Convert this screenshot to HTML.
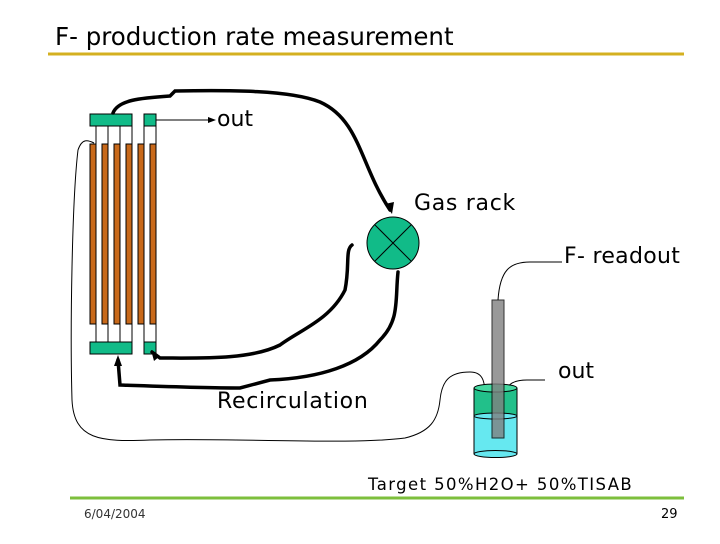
<!DOCTYPE html>
<html><head><style>
body{margin:0;width:720px;height:540px;background:#fff;overflow:hidden;font-family:"DejaVu Sans",sans-serif}
</style></head><body>
<svg width="720" height="540" xmlns="http://www.w3.org/2000/svg" font-family="DejaVu Sans, sans-serif">
<text x="55" y="45" font-size="24.5" fill="#000">F- production rate measurement</text>
<line x1="48" y1="54" x2="684" y2="54" stroke="#d4b020" stroke-width="3"/>
<line x1="70" y1="498" x2="684" y2="498" stroke="#7dbf3c" stroke-width="3"/>
<text x="84" y="518" font-size="12" fill="#333">6/04/2004</text>
<text x="661" y="518" font-size="13" fill="#000">29</text>

<g stroke="#000" stroke-width="1" fill="#fff">
<rect x="96" y="126" width="12" height="216"/>
<rect x="108" y="126" width="12" height="216"/>
<rect x="120" y="126" width="12" height="216"/>
<rect x="144" y="126" width="12" height="216"/>
</g>
<g fill="#c8691a" stroke="#000" stroke-width="1">
<rect x="90" y="144" width="6" height="180"/>
<rect x="102" y="144" width="6" height="180"/>
<rect x="114" y="144" width="6" height="180"/>
<rect x="126" y="144" width="6" height="180"/>
<rect x="138" y="144" width="6" height="180"/>
<rect x="150" y="144" width="6" height="180"/>
</g>
<g fill="#11bb88" stroke="#000" stroke-width="1">
<rect x="90" y="114" width="42" height="12"/>
<rect x="144" y="114" width="12" height="12"/>
<rect x="90" y="342" width="42" height="12"/>
<rect x="144" y="342" width="12" height="12"/>
</g>
<line x1="156" y1="120" x2="212" y2="120" stroke="#000" stroke-width="1"/>
<polygon points="216,120 208,117 208,123" fill="#000"/>
<text x="217" y="126" font-size="22">out</text>

<g fill="none" stroke="#000" stroke-width="3.5" stroke-linecap="round">
<path d="M113,113 C118,100 140,98 170,96 L175,91 C230,90 290,90 320,102 C360,120 360,165 390,210"/>
<path d="M398,272 C395,300 400,320 380,340 C360,365 320,378 270,380 L240,388 C200,388 150,386 120,385 L118,360"/>
<path d="M352,245 C345,250 350,265 345,290 C330,320 300,330 280,345 C250,360 200,358 160,358 L152,352"/>
</g>
<polygon points="392,214 385,204 394,202" fill="#000"/>
<polygon points="118,355 114,366 122,366" fill="#000"/>
<polygon points="151,350 154,361 160,356" fill="#000"/>

<circle cx="393" cy="243" r="26" fill="#11bb88" stroke="#000" stroke-width="1"/>
<line x1="375" y1="225" x2="411" y2="261" stroke="#000"/>
<line x1="411" y1="225" x2="375" y2="261" stroke="#000"/>
<text x="414" y="210" font-size="22" letter-spacing="0.7">Gas rack</text>
<text x="564" y="263" font-size="22" letter-spacing="0.3">F- readout</text>
<text x="558" y="378" font-size="22">out</text>
<text x="217" y="408" font-size="22" letter-spacing="0.7">Recirculation</text>
<text x="368" y="490" font-size="16.5" letter-spacing="1.4" fill="#000">Target 50%H2O+ 50%TISAB</text>

<g fill="none" stroke="#000" stroke-width="1">
<path d="M94,143 C88,140 82,138 78,150 C72,200 70,330 72,400 C74,440 100,442 150,440 C250,438 350,445 405,438 C430,432 438,420 440,400 C442,380 450,372 470,372 C482,372 485,380 485,395 L485,440"/>
<path d="M498,300 C500,270 510,262 530,262 C545,262 550,262 562,262"/>
<path d="M503,400 C505,385 512,380 527,380 L545,380"/>
</g>

<rect x="474" y="416" width="43" height="38" fill="#66e8f0" stroke="none"/>
<ellipse cx="495.5" cy="454" rx="21.5" ry="3.5" fill="#66e8f0" stroke="#000"/>
<rect x="474" y="388" width="43" height="28" fill="#22c08a"/>
<ellipse cx="495.5" cy="416" rx="21.5" ry="3" fill="#66e8f0" stroke="#000"/>
<ellipse cx="495.5" cy="388" rx="21.5" ry="4" fill="#44d8a0" stroke="#000"/>
<line x1="474" y1="388" x2="474" y2="454" stroke="#000"/>
<line x1="517" y1="388" x2="517" y2="454" stroke="#000"/>
<rect x="492" y="300" width="12" height="138" fill="#808080" stroke="#000" opacity="0.8"/>
</svg>
</body></html>
